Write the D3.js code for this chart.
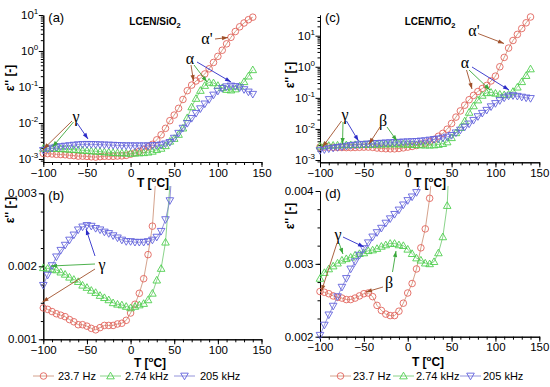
<!DOCTYPE html>
<html><head><meta charset="utf-8">
<script src="https://cdn.jsdelivr.net/npm/d3@7"></script>
<style>body{margin:0;background:#fff}svg{display:block}</style>
</head><body><svg id="c" width="550" height="387"></svg>
<script>
// ---------------- DATA ----------------
const temps = [-100,-95,-90,-85,-80,-75,-70,-65,-60,-55,-50,-45,-40,-35,-30,-25,-20,-15,-10,-5,0,5,10,15,20,25,30,35,40,45,50,55,60,65,70,75,80,85,90,95,100,105,110,115,120,125,130,135,140];
const seriesNames = ["23.7 Hz","2.74 kHz","205 kHz"];

const sio2_237Hz = [0.00143,0.00141,0.00138,0.00135,0.00133,0.00131,0.00127,0.00124,0.00120,0.00120,0.00118,0.00115,0.00113,0.00116,0.00119,0.00119,0.00119,0.00121,0.00122,0.00126,0.00136,0.00148,0.00163,0.00183,0.00216,0.00255,
  0.0034,0.0047,0.0071,0.0116,0.0166,0.0255,0.045,0.079,0.113,0.147,0.175,0.23,0.32,0.48,0.71,1.05,1.58,2.4,3.47,4.7,6.0,7.4,8.7];
const sio2_274kHz = [0.00198,0.00197,0.00196,0.00195,0.00192,0.00189,0.00185,0.00182,0.00179,0.00174,0.00171,0.00167,0.00164,0.00160,0.00157,0.00154,0.00150,0.00148,0.00147,0.00145,0.00143,0.00145,0.00147,0.00149,0.00154,0.00163,0.00181,0.00197,0.00233,
  0.0031,0.0037,0.0048,0.0072,0.014,0.028,0.048,0.08,0.11,0.135,0.13,0.11,0.095,0.085,0.082,0.088,0.105,0.14,0.2,0.3];
const sio2_205kHz = [0.00174,0.00188,0.00201,0.00213,0.00222,0.00229,0.00236,0.00243,0.0025,0.00254,0.00256,0.00255,0.00252,0.0025,0.00247,0.00245,0.00242,0.00239,0.00236,0.00234,0.00234,0.00233,0.00233,0.00233,0.00234,0.00236,0.0024,0.00248,0.00264,0.0029,
  0.0038,0.0052,0.0072,0.0098,0.0135,0.0186,0.025,0.034,0.045,0.06,0.077,0.092,0.102,0.107,0.104,0.096,0.085,0.073,0.063];

const tio2_237Hz = [0.00262,0.00261,0.00259,0.00256,0.00254,0.00253,0.00251,0.00251,0.00253,0.00256,0.00259,0.0026,0.00255,0.00243,0.00236,0.00231,0.00229,0.00229,0.00235,0.00246,0.0026,0.00273,0.00293,0.00322,0.00348,0.0039,
  0.0046,0.0058,0.0072,0.0098,0.015,0.024,0.038,0.058,0.087,0.12,0.16,0.2,0.25,0.35,0.5,1.0,2.0,4.0,7.0,11,17,26,40];
const tio2_274kHz = [0.0028,0.00288,0.00293,0.00297,0.00301,0.00305,0.00307,0.00309,0.00312,0.00314,0.00315,0.00318,0.00319,0.00321,0.00324,0.00326,0.00328,0.00328,0.00326,0.00325,0.0032,0.00314,0.00308,0.00305,0.00301,0.003,0.00303,0.00315,0.00337,
  0.0038,0.0052,0.0075,0.011,0.018,0.034,0.055,0.085,0.12,0.145,0.15,0.14,0.13,0.125,0.13,0.16,0.22,0.33,0.52,0.85];
const tio2_205kHz = [0.00202,0.00216,0.0023,0.00242,0.00255,0.00268,0.0028,0.00293,0.00303,0.00312,0.00321,0.00329,0.00337,0.00343,0.00349,0.00356,0.00362,0.00368,0.00374,0.00381,0.00387,0.00392,0.00398,
  0.0041,0.0042,0.0044,0.0046,0.0048,0.0051,0.0055,0.0062,0.0075,0.0092,0.0115,0.0145,0.019,0.025,0.032,0.04,0.052,0.066,0.082,0.1,0.115,0.118,0.113,0.106,0.1,0.096];

const xTicksMajor = [-100,-50,0,50,100,150];
const linTicksB = [0.001,0.002,0.003];
const linTicksD = [0.002,0.003,0.004];
const logExps = [-3,-2,-1,0,1];

// ---------------- STYLE / LAYOUT ----------------
const FONT = "'Liberation Sans', Arial, sans-serif";
const SERIF = "'Liberation Serif', 'Times New Roman', serif";
const markerCol = ["#e2645c","#4fcf4f","#6262dc"];
const lineCol = ["#c98a6e","#6cc86c","#7a7ad2"];
const symbols = ["circle","up","down"];

const svg = d3.select("#c");
const defs = svg.append("defs");
const arrowCols = {br:"#a0502a", gr:"#3aa83a", bl:"#2c2cc8"};
Object.entries(arrowCols).forEach(([k,c])=>{
  defs.append("marker").attr("id","ah-"+k).attr("viewBox","0 0 10 10").attr("refX",10).attr("refY",5)
    .attr("markerWidth",7).attr("markerHeight",6).attr("markerUnits","userSpaceOnUse").attr("orient","auto")
    .append("path").attr("d","M0,1.5L10,5L0,8.5z").attr("fill",c);
});

function sym(g, type, x, y, color){
  if(type==="circle"){
    g.append("circle").attr("cx",x).attr("cy",y).attr("r",3.3).attr("fill","none").attr("stroke",color).attr("stroke-width",0.9);
  } else {
    const s=3.8, up = type==="up";
    const p = up ? `M${x},${y-s}L${x+s},${y+s*0.75}L${x-s},${y+s*0.75}Z` : `M${x},${y+s}L${x+s},${y-s*0.75}L${x-s},${y-s*0.75}Z`;
    g.append("path").attr("d",p).attr("fill","none").attr("stroke",color).attr("stroke-width",0.9);
  }
}

const panels = [
  {key:"a", xr:[43.3,261.5], yr:[162,15], log:true, ydom:[Math.pow(10,-3.0835),10], data:[sio2_237Hz,sio2_274kHz,sio2_205kHz], clipTop:10, markTop:10, label:"(a)", title:["LCEN/SiO","2"], titleX:155, yTitle:[10,78], xTitle:[153,183]},
  {key:"b", xr:[43.3,261.5], yr:[339.3,193.3], log:false, ydom:[0.001,0.003], ticks:linTicksB, data:[sio2_237Hz,sio2_274kHz,sio2_205kHz], clipTop:186, markTop:190, label:"(b)", yTitle:[10,210], xTitle:[150,363]},
  {key:"c", xr:[320,539.3], yr:[162.3,15], log:true, ydom:[Math.pow(10,-3.074),Math.pow(10,1.666)], data:[tio2_237Hz,tio2_274kHz,tio2_205kHz], clipTop:10, markTop:10, label:"(c)", title:["LCEN/TiO","2"], titleX:430, yTitle:[290,75], xTitle:[430,183]},
  {key:"d", xr:[320,539.3], yr:[336.7,191], log:false, ydom:[0.002,0.004], ticks:linTicksD, data:[tio2_237Hz,tio2_274kHz,tio2_205kHz], clipTop:186, markTop:190, label:"(d)", yTitle:[290,216], xTitle:[428,362]}
];

panels.forEach(P=>{
  const x = d3.scaleLinear().domain([-100,150]).range(P.xr);
  const y = (P.log ? d3.scaleLog() : d3.scaleLinear()).domain(P.ydom).range(P.yr);
  const g = svg.append("g");
  const x0 = P.xr[0], yb = P.yr[0];

  defs.append("clipPath").attr("id","clip-"+P.key).append("rect")
    .attr("x",x0-6).attr("y",P.clipTop).attr("width",P.xr[1]-x0+12).attr("height",yb-P.clipTop+6);

  // x axis
  const xMinor = d3.range(-100,151,10);
  g.append("g").attr("transform",`translate(0,${yb})`)
    .call(d3.axisBottom(x).tickValues(xMinor).tickSize(3).tickSizeOuter(0).tickFormat(""));
  g.append("g").attr("transform",`translate(0,${yb})`)
    .call(d3.axisBottom(x).tickValues(xTicksMajor).tickSize(5).tickSizeOuter(0).tickPadding(1.5))
    .call(a=>a.selectAll("text").attr("font-family",FONT).attr("font-size",11.5).attr("fill","#000"));

  // y axis
  if(P.log){
    const minors = [];
    for(let e=-4;e<=1;e++) for(let m=2;m<=9;m++){const v=m*Math.pow(10,e); if(v>=P.ydom[0]&&v<=P.ydom[1]) minors.push(v);}
    g.append("g").attr("transform",`translate(${x0},0)`)
      .call(d3.axisLeft(y).tickValues(minors).tickSize(2.5).tickSizeOuter(0).tickFormat(""));
    const majors = logExps.map(e=>Math.pow(10,e));
    g.append("g").attr("transform",`translate(${x0},0)`)
      .call(d3.axisLeft(y).tickValues(majors).tickSize(4.5).tickSizeOuter(0).tickFormat(""));
    logExps.forEach(e=>{
      const t = g.append("text").attr("x",x0-5).attr("y",y(Math.pow(10,e))+4).attr("text-anchor","end")
        .attr("font-family",FONT).attr("font-size",11.5);
      t.append("tspan").text("10");
      t.append("tspan").attr("dy",-5).attr("font-size",8).text(String(e));
    });
  } else {
    const step = (P.ydom[1]-P.ydom[0])/8;
    const minors = d3.range(0,9).map(i=>P.ydom[0]+i*step);
    g.append("g").attr("transform",`translate(${x0},0)`)
      .call(d3.axisLeft(y).tickValues(minors).tickSize(2.5).tickSizeOuter(0).tickFormat(""));
    g.append("g").attr("transform",`translate(${x0},0)`)
      .call(d3.axisLeft(y).tickValues(P.ticks).tickSize(4.5).tickSizeOuter(0).tickPadding(2).tickFormat(d3.format(".3f")))
      .call(a=>a.selectAll("text").attr("font-family",FONT).attr("font-size",11.5).attr("fill","#000"));
  }
  g.selectAll(".domain, .tick line").attr("stroke","#000");

  // titles
  const xt = g.append("text").attr("x",P.xTitle[0]).attr("y",P.xTitle[1]+4).attr("text-anchor","middle")
    .attr("font-family",FONT).attr("font-size",12).attr("font-weight","bold");
  xt.append("tspan").text("T [");
  xt.append("tspan").attr("dy",-5).attr("font-size",8).text("o");
  xt.append("tspan").attr("dy",5).text("C]");
  g.append("text").attr("transform",`translate(${P.yTitle[0]+4},${P.yTitle[1]}) rotate(-90)`).attr("text-anchor","middle")
    .attr("font-family",FONT).attr("font-size",12).attr("font-weight","bold").text("ε'' [-]");
  g.append("text").attr("x",x0+5).attr("y",P.yr[1]+7).attr("font-family",FONT).attr("font-size",13).text(P.label);
  if(P.title){
    const tt = g.append("text").attr("x",P.titleX).attr("y",25).attr("text-anchor","middle")
      .attr("font-family",FONT).attr("font-size",10).attr("font-weight","bold");
    tt.append("tspan").text(P.title[0]);
    tt.append("tspan").attr("dy",3).attr("font-size",7.5).text(P.title[1]);
  }

  // data
  const dg = g.append("g").attr("clip-path",`url(#clip-${P.key})`);
  P.data.forEach((vals,i)=>{
    const pts = temps.map((t,j)=>[t,vals[j]]);
    dg.append("path").datum(pts).attr("fill","none").attr("stroke",lineCol[i]).attr("stroke-width",0.8)
      .attr("d",d3.line().x(d=>x(d[0])).y(d=>y(d[1])));
    pts.forEach(d=>{
      const py = y(d[1]);
      if(py < P.markTop) return;
      sym(dg, symbols[i], x(d[0]), py, markerCol[i]);
    });
  });
});

// ---------------- ANNOTATIONS (pixel layout) ----------------
const labels = [
  ["γ",76,122],["α'",207,44],["α",190,64],
  ["γ",102,270],
  ["γ",345,120],["β",383,126],["α'",474,36],["α",465,68],
  ["γ",338,240],["β",389,288]
];
labels.forEach(([t,lx,ly])=>svg.append("text").attr("x",lx).attr("y",ly).attr("text-anchor","middle")
  .attr("font-family",SERIF).attr("font-size",16).text(t));

const arrows = [
  ["br",72,121,43.5,149],["gr",73.5,122,52.5,147],["bl",77,123,88,139],
  ["br",215,39,228,37.5],
  ["br",191,65,193.5,81],["gr",194,65,207,82],["bl",197,62,231,82],
  ["bl",95,256,86,229],["gr",95,264,51,266],["br",95,269,42.5,302],
  ["br",341.5,121,322.5,147],["gr",343,122,342.5,144],["bl",346.5,121,358.5,141],
  ["br",380,127,369,144],["gr",387,127,397,141],
  ["br",478,33.5,504,43.5],
  ["br",466.5,70,472,89],["gr",469,70,490,90],["bl",472,67,509,90],
  ["br",337,243,321.5,291],["gr",339,243,343,254],["bl",343,237,364,247],
  ["gr",392.5,272,396,251],
  ["br",383,287,366,292]
];
arrows.forEach(([c,x1,y1,x2,y2])=>svg.append("line").attr("x1",x1).attr("y1",y1).attr("x2",x2).attr("y2",y2)
  .attr("stroke",arrowCols[c]).attr("stroke-width",0.9).attr("marker-end",`url(#ah-${c})`));

// ---------------- LEGENDS ----------------
const legendRows = [
  {y:376, items:[[33,58],[100,125],[174,200]]},
  {y:376, items:[[330,353],[393,416],[460,483]]}
];
legendRows.forEach(L=>{
  L.items.forEach(([lx,tx],i)=>{
    svg.append("line").attr("x1",lx).attr("x2",lx+21).attr("y1",L.y).attr("y2",L.y).attr("stroke",lineCol[i]).attr("stroke-width",0.8);
    sym(svg, symbols[i], lx+10.5, L.y, markerCol[i]);
    svg.append("text").attr("x",tx).attr("y",L.y+4).attr("font-family",FONT).attr("font-size",11).text(seriesNames[i]);
  });
});
</script></body></html>
